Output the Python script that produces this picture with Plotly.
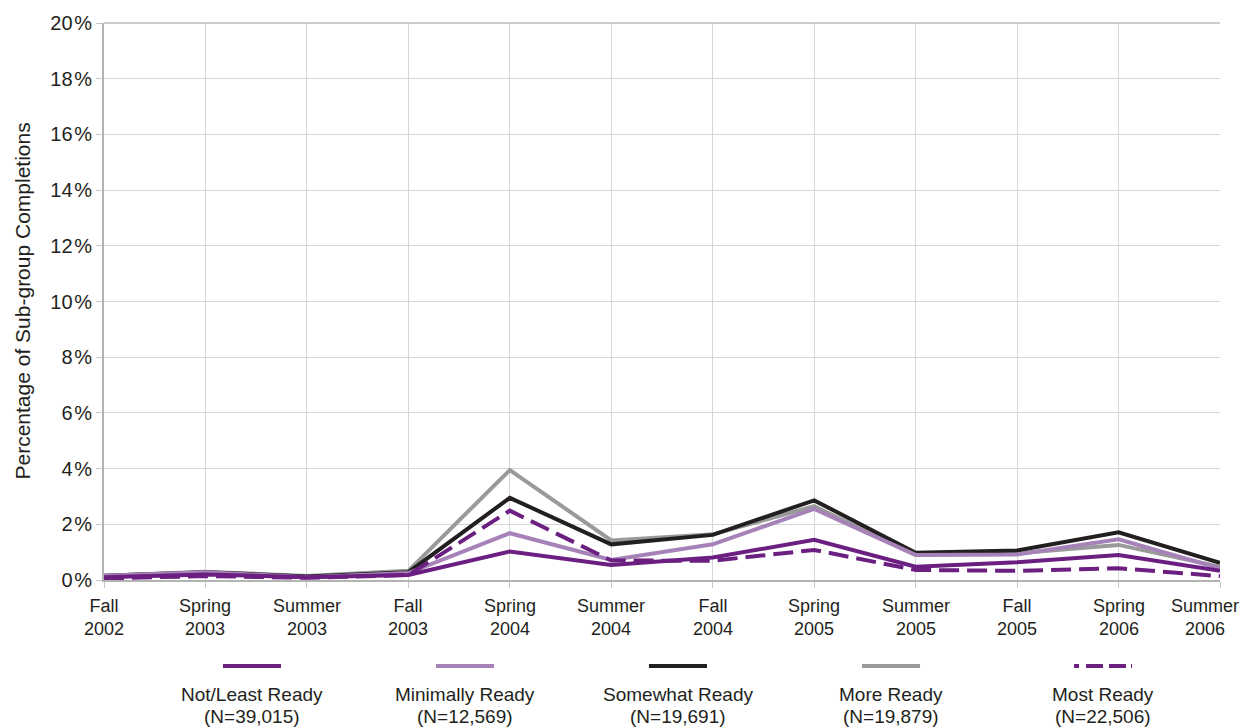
import plotly.graph_objects as go

# semesters on the x axis
terms = ["Fall 2002", "Spring 2003", "Summer 2003", "Fall 2003",
         "Spring 2004", "Summer 2004", "Fall 2004", "Spring 2005",
         "Summer 2005", "Fall 2005", "Spring 2006", "Summer 2006"]

# percentage of sub-group completions
not_least = [0.10, 0.20, 0.10, 0.18, 1.02, 0.54, 0.81, 1.44, 0.48, 0.64, 0.90, 0.33]
minimally = [0.15, 0.28, 0.10, 0.25, 1.68, 0.72, 1.28, 2.55, 0.90, 0.92, 1.46, 0.42]
somewhat = [0.15, 0.28, 0.13, 0.28, 2.95, 1.28, 1.62, 2.86, 0.98, 1.06, 1.71, 0.62]
more = [0.15, 0.30, 0.14, 0.33, 3.95, 1.42, 1.64, 2.65, 0.90, 0.96, 1.26, 0.47]
most = [0.06, 0.14, 0.08, 0.18, 2.49, 0.70, 0.69, 1.08, 0.36, 0.33, 0.42, 0.14]

y_ticks = [0, 2, 4, 6, 8, 10, 12, 14, 16, 18, 20]

names = ["Not/Least Ready", "Minimally Ready", "Somewhat Ready", "More Ready", "Most Ready"]
counts = ["(N=39,015)", "(N=12,569)", "(N=19,691)", "(N=19,879)", "(N=22,506)"]

PURPLE = "#6b1f80"
LILAC = "#a682b9"
BLACK = "#231f20"
GREY = "#9a9a9a"
FONT = "Liberation Sans, Arial, sans-serif"

series = [
    (not_least, PURPLE, "solid"),
    (minimally, LILAC, "solid"),
    (somewhat, BLACK, "solid"),
    (more, GREY, "solid"),
    (most, PURPLE, "20px,8px"),
]

fig = go.Figure()
# draw order: grey/black under, purple on top
for i in [3, 2, 1, 0, 4]:
    vals, col, dash = series[i]
    fig.add_trace(go.Scatter(
        x=terms, y=vals, name=names[i], mode="lines",
        line=dict(color=col, width=4, dash=dash),
        showlegend=False,
    ))

# x tick labels as annotations so the last one can be nudged inside the page
for k, t in enumerate(terms):
    fig.add_annotation(x=t, xref="x", yref="paper", y=0, yshift=-14,
                       text=t.replace(" ", "<br>"), showarrow=False,
                       xanchor="center", yanchor="top",
                       xshift=-15 if k == len(terms) - 1 else 0,
                       font=dict(size=18, color=BLACK))

# y axis title
fig.add_annotation(xref="paper", yref="paper", x=0, xshift=-82, y=0.5,
                   xanchor="center", yanchor="middle",
                   text="Percentage of Sub-group Completions", textangle=-90,
                   showarrow=False, font=dict(size=21, color=BLACK))

# darker top border line
fig.add_shape(type="line", xref="paper", yref="paper", x0=0, x1=1, y0=1, y1=1,
              line=dict(color="#9a9a9a", width=1))

# custom legend under the chart: line sample above a two-line label
centers = [0.1326, 0.3235, 0.5143, 0.7052, 0.8952]
for k, cx in enumerate(centers):
    col = series[k][1]
    dash = "5px,7px,17px,6px,17px" if k == 4 else "solid"
    fig.add_shape(type="line", xref="paper", yref="paper",
                  x0=cx - 0.026, x1=cx + 0.026, y0=-0.1544, y1=-0.1544,
                  line=dict(color=col, width=4, dash=dash))
    for txt, yy in [(names[k], -0.205), (counts[k], -0.2445)]:
        fig.add_annotation(xref="paper", yref="paper", x=cx, y=yy,
                           text=txt, showarrow=False,
                           xanchor="center", yanchor="middle",
                           font=dict(size=19, color=BLACK))

# page has an 8px body margin, so the figure is 8px smaller and margins shifted
fig.update_layout(
    width=1242, height=719,
    margin=dict(l=96, r=30, t=15, b=147),
    plot_bgcolor="white", paper_bgcolor="white",
    font=dict(family=FONT, size=18, color=BLACK),
)
fig.update_xaxes(
    type="category", range=[0, 11], showgrid=True, gridcolor="#d6d6d6", gridwidth=1,
    showline=True, linecolor="#b3b3b3", linewidth=2,
    ticks="outside", ticklen=6, tickcolor="#c8c8c8",
    showticklabels=False, automargin=False,
)
fig.update_yaxes(
    range=[0, 20], tickvals=y_ticks,
    ticktext=[f"{v}\u200a%" for v in y_ticks],
    showgrid=True, gridcolor="#d6d6d6",
    showline=True, linecolor="#b3b3b3", linewidth=2,
    ticks="outside", ticklen=6, tickcolor="#c8c8c8", zeroline=False,
    tickfont=dict(size=20), automargin=False,
)

fig.write_html("out.html")
